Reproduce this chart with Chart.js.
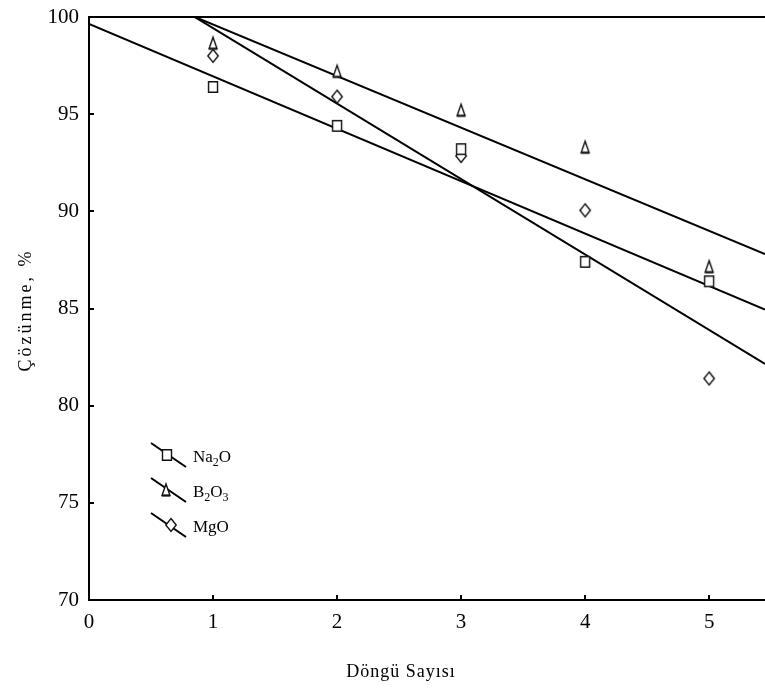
<!DOCTYPE html>
<html>
<head>
<meta charset="utf-8">
<script src="https://cdn.jsdelivr.net/npm/chart.js@4.4.1/dist/chart.umd.min.js"></script>
<style>
  html, body { margin: 0; padding: 0; background: #fff; }
  canvas { display: block; }
</style>
</head>
<body>
<canvas id="c" width="765" height="690"></canvas>
<script>
// ---- data ----
const cycles = [1, 2, 3, 4, 5];
const na2o = [96.4, 94.4, 93.2, 87.4, 86.4];
const b2o3 = [98.65, 97.2, 95.2, 93.3, 87.15];
const mgo  = [98.0, 95.9, 92.85, 90.05, 81.4];

// fitted trend lines (endpoints)
const trendX = [0, 5.45];
const na2oTrend = [99.64, 84.95];
const b2o3Trend = [102.27, 87.8];
const mgoTrend  = [103.31, 82.15];

const xTicks = [0, 1, 2, 3, 4, 5];
const yTicks = [70, 75, 80, 85, 90, 95, 100];
const seriesNames = ['Na\u2082O', 'B\u2082O\u2083', 'MgO'];
const xTitle = 'Döngü Sayısı';
const yTitle = 'Çözünme, %';

const FONT = '"Liberation Serif", "Times New Roman", serif';

function makeMarker(shape) {
  const cv = document.createElement('canvas');
  cv.width = 18; cv.height = 18;
  const g = cv.getContext('2d');
  g.strokeStyle = '#111';
  g.fillStyle = '#fff';
  g.lineWidth = 1.4;
  const cx = 9, cy = 9;
  g.beginPath();
  if (shape === 'square') {
    g.rect(cx - 4.5, cy - 5.2, 9, 10.4);
  } else if (shape === 'triangle') {
    g.moveTo(cx, cy - 6);
    g.lineTo(cx + 4, cy + 5.5);
    g.lineTo(cx - 4, cy + 5.5);
    g.closePath();
  } else {
    g.moveTo(cx, cy - 6.5);
    g.lineTo(cx + 5.2, cy);
    g.lineTo(cx, cy + 6.5);
    g.lineTo(cx - 5.2, cy);
    g.closePath();
  }
  g.fill();
  g.stroke();
  if (shape === 'triangle') {
    g.lineWidth = 2;
    g.beginPath();
    g.moveTo(cx - 4, cy + 5.5); g.lineTo(cx + 4, cy + 5.5);
    g.stroke();
  }
  return cv;
}
const markers = [makeMarker('square'), makeMarker('triangle'), makeMarker('diamond')];

function pts(xs, ys) { return xs.map((x, i) => ({ x: x, y: ys[i] })); }

const scatterSets = [na2o, b2o3, mgo].map((vals, i) => ({
  type: 'scatter',
  label: seriesNames[i],
  data: pts(cycles, vals),
  pointStyle: markers[i],
  pointRadius: 6,
  showLine: false,
  order: 0
}));
const trendSets = [na2oTrend, b2o3Trend, mgoTrend].map((vals, i) => ({
  type: 'line',
  label: seriesNames[i] + ' fit',
  data: pts(trendX, vals),
  borderColor: '#000',
  borderWidth: 2,
  pointRadius: 0,
  fill: false,
  tension: 0,
  order: 1
}));

const decorPlugin = {
  id: 'decor',
  afterDraw(chart) {
    const ctx = chart.ctx;
    const a = chart.chartArea;
    const xs = chart.scales.x, ys = chart.scales.y;
    ctx.save();
    ctx.strokeStyle = '#000';
    // top frame line
    ctx.lineWidth = 2;
    ctx.beginPath();
    ctx.moveTo(a.left, a.top); ctx.lineTo(a.right, a.top);
    ctx.stroke();
    // inward ticks
    ctx.lineWidth = 2;
    xTicks.forEach(v => {
      const px = Math.round(xs.getPixelForValue(v)) ;
      if (v === 0) return;
      ctx.beginPath();
      ctx.moveTo(px, a.bottom); ctx.lineTo(px, a.bottom - 5);
      ctx.stroke();
    });
    yTicks.forEach(v => {
      const py = Math.round(ys.getPixelForValue(v));
      if (v === 70 || v === 100) return;
      ctx.beginPath();
      ctx.moveTo(a.left, py); ctx.lineTo(a.left + 5, py);
      ctx.stroke();
    });
    // axis titles
    ctx.fillStyle = '#000';
    ctx.font = '18px ' + FONT;
    ctx.textAlign = 'center';
    ctx.textBaseline = 'middle';
    ctx.letterSpacing = '1px';
    ctx.fillText(xTitle, 401, 672);
    ctx.save();
    ctx.translate(26, 310);
    ctx.rotate(-Math.PI / 2);
    ctx.letterSpacing = '3px';
    ctx.fillText(yTitle, 0, 0);
    ctx.restore();
    ctx.letterSpacing = '0px';
    // legend
    const rows = [455, 490, 525];
    const mx = [167, 166, 171];
    rows.forEach((cy, i) => {
      ctx.lineWidth = 2;
      ctx.beginPath();
      ctx.moveTo(151, cy - 12); ctx.lineTo(186, cy + 12);
      ctx.stroke();
      const m = markers[i];
      ctx.drawImage(m, mx[i] - m.width / 2, cy - m.height / 2);
      // label with subscripts
      ctx.textAlign = 'left';
      ctx.textBaseline = 'alphabetic';
      let x = 193;
      const base = cy + 7;
      const parts = i === 0 ? [['Na', 0], ['2', 1], ['O', 0]]
                  : i === 1 ? [['B', 0], ['2', 1], ['O', 0], ['3', 1]]
                  : [['MgO', 0]];
      parts.forEach(([t, sub]) => {
        ctx.font = (sub ? '12px ' : '17px ') + FONT;
        ctx.fillText(t, x, base + (sub ? 4 : 0));
        x += ctx.measureText(t).width;
      });
    });
    ctx.restore();
  }
};

new Chart(document.getElementById('c'), {
  data: { datasets: [...trendSets, ...scatterSets] },
  options: {
    responsive: false,
    animation: false,
    devicePixelRatio: 1,
    layout: { autoPadding: false, padding: { top: 17, right: 0, left: 0, bottom: 0 } },
    plugins: { legend: { display: false }, tooltip: { enabled: false } },
    scales: {
      x: {
        type: 'linear',
        min: 0, max: 5.45,
        afterBuildTicks: s => { s.ticks = xTicks.map(v => ({ value: v })); },
        afterFit: s => { s.height = 90; s.paddingLeft = 0; s.paddingRight = 0; },
        grid: { drawOnChartArea: false, drawTicks: false },
        border: { display: true, color: '#000', width: 2 },
        ticks: { color: '#000', font: { family: FONT, size: 21 }, padding: 10, maxRotation: 0 }
      },
      y: {
        type: 'linear',
        min: 70, max: 100,
        afterBuildTicks: s => { s.ticks = yTicks.map(v => ({ value: v })); },
        afterFit: s => { s.width = 89; s.paddingTop = 0; s.paddingBottom = 0; },
        grid: { drawOnChartArea: false, drawTicks: false },
        border: { display: true, color: '#000', width: 2 },
        ticks: { color: '#000', font: { family: FONT, size: 21 }, padding: 10 }
      }
    }
  },
  plugins: [decorPlugin]
});
</script>
</body>
</html>
